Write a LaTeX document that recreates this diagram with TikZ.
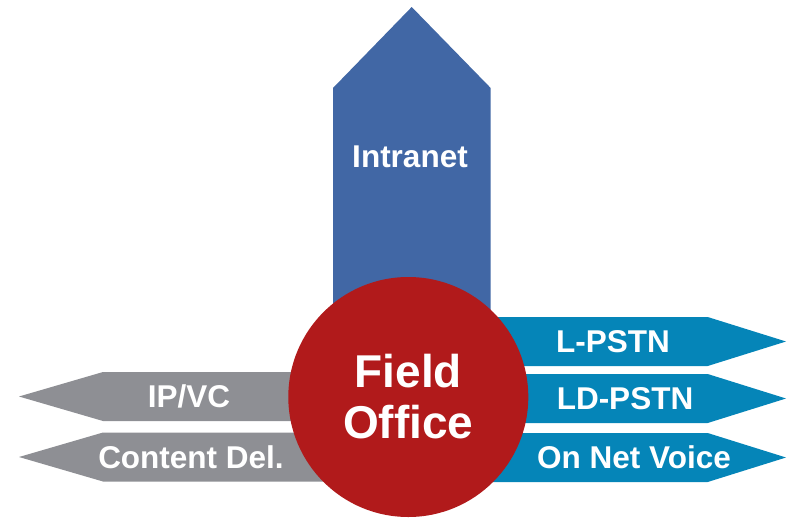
\documentclass[tikz,border=0pt]{standalone}
\usepackage{fontspec}
\setmainfont{Liberation Sans}

\definecolor{netblue}{HTML}{4167A5}
\definecolor{voiceblue}{HTML}{0585B8}
\definecolor{datagray}{HTML}{8E8F94}
\definecolor{officered}{HTML}{B11A1B}

\tikzset{
  lbl/.style={text=white,font=\fontsize{31.5}{36}\selectfont\bfseries},
}

\begin{document}
\begin{tikzpicture}[x=1pt,y=-1pt]
\useasboundingbox (0,0) rectangle (790,517);

\fill[netblue] (333,420) -- (333,88) -- (411.7,7) -- (490.7,88) -- (490.7,420) -- cycle;

\foreach \y in {396.5,457} {
    \fill[datagray] (330,\y-24.5) -- (103,\y-24.5) -- (19,\y) -- (103,\y+24.5) -- (330,\y+24.5) -- cycle;
}

\foreach \y in {341.5,398.5,457.5} {
    \fill[voiceblue] (480,\y-24.5) -- (707.7,\y-24.5) -- (786,\y) -- (707.7,\y+24.5) -- (480,\y+24.5) -- cycle;
}

\node[circle,fill=officered,minimum size=240pt,inner sep=0pt,align=center,
      text=white,font=\fontsize{46}{51}\selectfont\bfseries] (office) at (408.3,397) {Field\\Office};

\node[lbl] (intranet) at (410,157) {Intranet};

\node[lbl] (ipvc) at (189,396.5) {IP/VC};
\node[lbl] (content) at (191,457) {Content Del.};

\node[lbl] (lpstn) at (613,341.5) {L-PSTN};
\node[lbl] (ldpstn) at (625,398.5) {LD-PSTN};
\node[lbl] (onnet) at (634,457.5) {On Net Voice};
\end{tikzpicture}
\end{document}
